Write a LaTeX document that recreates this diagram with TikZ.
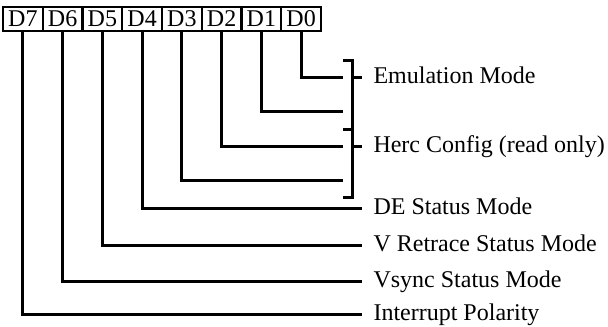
\documentclass[tikz,border=0pt]{standalone}
\usepackage{fontspec}
\setmainfont{Liberation Serif}

\begin{document}
\begin{tikzpicture}[x=0.5pt,y=-0.5pt,line width=1.5pt,bit/.style={draw,line width=1.2pt,minimum width=19.875pt,minimum height=12pt,inner sep=0pt,font=\fontsize{12}{13}\selectfont},field/.style={anchor=west,inner xsep=5pt,inner ysep=0pt,text height=0.66em,text depth=0pt,font=\fontsize{12}{14}\selectfont}]
\useasboundingbox (0,0) rectangle (608,326);
\foreach \b in {0,...,7} \node[bit] (b\b) at ({3+39.75*(7.5-\b)},19) {D\b};
\node[field] (emu) at (362,77) {Emulation Mode}; \node[field] (herc) at (362,146) {Herc Config (read only)};
\node[field] (de) at (362,208) {DE Status Mode}; \node[field] (vret) at (362,245) {V Retrace Status Mode};
\node[field] (vsync) at (362,281) {Vsync Status Mode}; \node[field] (intp) at (362,314) {Interrupt Polarity};
\foreach \b/\y in {0/77,1/111,2/146,3/180} {\coordinate (e\b) at (343,\y); \draw (b\b.south) |- (e\b);}
\coordinate (bt) at (352,61); \coordinate (bm) at (352,129); \coordinate (bb) at (352,197);
\draw (e0 |- bt) -- (bt) -- (bb) -- (e0 |- bb); \draw (e0 |- bm) -- (bm);
\draw (bt |- emu.west) -- (emu.west); \draw (bt |- herc.west) -- (herc.west);
\draw (b4.south) |- (de.west); \draw (b5.south) |- (vret.west);
\draw (b6.south) |- (vsync.west); \draw (b7.south) |- (intp.west);
\end{tikzpicture}
\end{document}
